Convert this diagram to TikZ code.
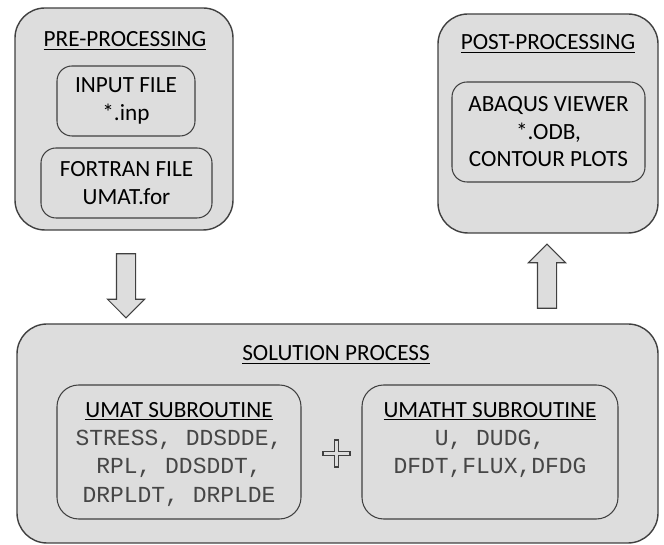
\documentclass[tikz,border=0pt]{standalone}
\usepackage{fontspec}
\setmainfont{Carlito}
\setmonofont{Liberation Mono}
\usepackage{tikz}
\usetikzlibrary{shapes,positioning}
\usepackage{xcolor}
\definecolor{boxfill}{RGB}{221,221,221}
\definecolor{boxline}{RGB}{64,64,64}
\definecolor{codegray}{RGB}{70,70,70}
\tikzstyle{outerbox} = [draw=boxline, line width=1.2pt, fill=boxfill, rounded corners=0.9cm, inner sep=0pt]
\tikzstyle{innerbox} = [draw=boxline, line width=0.9pt, rounded corners=0.45cm, align=center, inner sep=0pt, font=\fontsize{19.8}{23.5}\selectfont]
\tikzstyle{heading} = [font=\fontsize{19.8}{23.5}\selectfont, inner sep=0pt, anchor=base]
\tikzstyle{codetext} = [align=center, inner sep=0pt, anchor=north, font=\fontsize{19.6}{24}\selectfont]
\tikzstyle{blockarrow} = [single arrow, draw=boxline, line width=0.9pt, fill=boxfill, inner xsep=0pt, inner ysep=0.27cm, minimum height=1.92cm, single arrow head extend=0.27cm]
\newcommand{\code}[1]{\textcolor{codegray}{\texttt{#1}}}

\begin{document}
\begin{tikzpicture}
\useasboundingbox (0,0) rectangle (19.92,16.35);

% Pre-processing
\node[outerbox, minimum width=6.54cm, minimum height=6.66cm] (pre) at (3.72,12.78) {};
\node[heading] (pretitle) at (3.75,14.94) {\underline{PRE-PROCESSING}};
\node[innerbox, minimum width=4.14cm, minimum height=2.1cm] (input) at (3.78,13.32) {INPUT FILE\\*.inp};
\node[innerbox, minimum width=5.13cm, minimum height=2.1cm] (fortran) at (3.795,10.86) {FORTRAN FILE\\UMAT.for};

% Post-processing
\node[outerbox, minimum width=6.6cm, minimum height=6.57cm] (post) at (16.44,12.645) {};
\node[heading] (posttitle) at (16.44,14.85) {\underline{POST-PROCESSING}};
\node[innerbox, minimum width=5.79cm, minimum height=3.0cm] (viewer) at (16.455,12.39) {ABAQUS VIEWER\\*.ODB,\\CONTOUR PLOTS};

% Solution process
\node[outerbox, minimum width=19.23cm, minimum height=6.57cm] (solution) at (10.125,3.345) {};
\node[heading] (soltitle) at (10.08,5.52) {\underline{SOLUTION PROCESS}};
\node[innerbox, rounded corners=0.65cm, minimum width=7.32cm, minimum height=4.02cm] (umat) at (5.37,2.79) {};
\node[innerbox, rounded corners=0.65cm, minimum width=7.68cm, minimum height=4.02cm] (umatht) at (14.7,2.79) {};
\node[codetext] (umattxt) at ([yshift=-0.54cm]umat.north) {{\fontsize{19.8}{23.5}\selectfont\underline{UMAT SUBROUTINE}}\\
  \code{STRESS, DDSDDE,}\\ \code{RPL, DDSDDT,}\\ \code{DRPLDT, DRPLDE}};
\node[codetext] (umathttxt) at ([yshift=-0.54cm]umatht.north) {{\fontsize{19.8}{23.5}\selectfont\underline{UMATHT SUBROUTINE}}\\
  \code{U, DUDG,}\\ \code{DFDT,FLUX,DFDG}};

% Plus sign
\coordinate (plus) at (10.095,2.745);
\draw[draw=boxline, line width=0.9pt, fill=boxfill] (plus) ++(-0.07,0.405) -- ++(0.14,0) -- ++(0,-0.335) -- ++(0.335,0) -- ++(0,-0.14) -- ++(-0.335,0) -- ++(0,-0.335) -- ++(-0.14,0) -- ++(0,0.335) -- ++(-0.335,0) -- ++(0,0.14) -- ++(0.335,0) -- cycle;

% Arrows
\node[blockarrow, rotate=-90] (down) at (3.78,7.92) {};
\node[blockarrow, rotate=90] (up) at (16.41,7.92) {};
\end{tikzpicture}
\end{document}
